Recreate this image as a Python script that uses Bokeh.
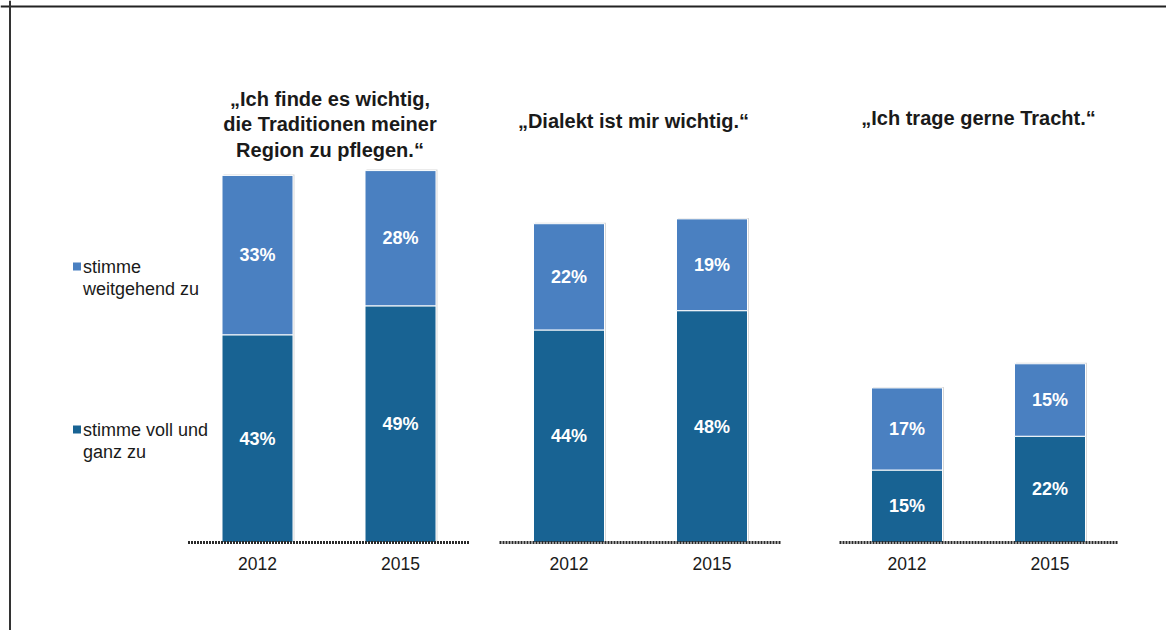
from bokeh.plotting import figure
from bokeh.models import Range1d, ColumnDataSource, Span
from bokeh.core.properties import value
from bokeh.embed import file_html
from bokeh.resources import INLINE

# ---------------- data ----------------
titles = ["„Ich finde es wichtig,\ndie Traditionen meiner\nRegion zu pflegen.“",
          "„Dialekt ist mir wichtig.“",
          "„Ich trage gerne Tracht.“"]
years = ["2012", "2015"]
voll = [43, 49, 44, 48, 15, 22]   # stimme voll und ganz zu
weit = [33, 28, 22, 19, 17, 15]   # stimme weitgehend zu
series_labels = ["stimme\nweitgehend zu", "stimme voll und\nganz zu"]
colors = ["#4A80C1", "#186393"]

# ---------------- layout ----------------
W, H = 1166, 630
BASE_PX = 542
PX_PER_PCT = 4.83
def ypx(py):
    return (BASE_PX - py) / PX_PER_PCT

group_centers = [328.5, 640.0, 978.0]
bar_step = 143.0
bar_w = 71.0
title_y_px = [124, 120, 117]
title_dx = [1, -7, 0]
base_half = [141, 141, 139]
FONT = "Liberation Sans"

p = figure(width=W, height=H, x_range=Range1d(0, W),
           y_range=Range1d(ypx(H), ypx(0)),
           output_backend="svg", toolbar_location=None,
           x_axis_type=None, y_axis_type=None,
           min_border=0, min_border_left=0, min_border_right=0,
           min_border_top=0, min_border_bottom=0)
p.grid.visible = False
p.outline_line_color = None
p.background_fill_color = "white"
p.border_fill_color = "white"

xs, tops_v, tops_w, lab_v, lab_w, txt_v, txt_w, tick_txt = [], [], [], [], [], [], [], []
for g, c in enumerate(group_centers):
    for j, yr in enumerate(years):
        k = g * len(years) + j
        x = c + (j - 0.5) * bar_step
        xs.append(x)
        tops_v.append(voll[k])
        tops_w.append(voll[k] + weit[k])
        lab_v.append(voll[k] / 2)
        lab_w.append(voll[k] + weit[k] / 2)
        txt_v.append(f"{voll[k]}%")
        txt_w.append(f"{weit[k]}%")
        tick_txt.append(yr)

src = ColumnDataSource(dict(x=xs, xs=[x + 1.5 for x in xs], top_v=tops_v, top_w=tops_w,
                            top_ws=[t + 0.2 for t in tops_w],
                            lab_v=lab_v, lab_w=lab_w, txt_v=txt_v, txt_w=txt_w,
                            zero=[0] * len(xs), tick=tick_txt))

# shadow
p.vbar(x="xs", width=bar_w, bottom="zero", top="top_ws", source=src,
       fill_color="#d8d8d8", line_color=None)
# stacked bars
p.vbar(x="x", width=bar_w, bottom="zero", top="top_v", source=src,
       fill_color=colors[1], line_color="white", line_width=1)
p.vbar(x="x", width=bar_w, bottom="top_v", top="top_w", source=src,
       fill_color=colors[0], line_color="white", line_width=1)

# value labels
for ycol, tcol in (("lab_v", "txt_v"), ("lab_w", "txt_w")):
    p.text(x="x", y=ycol, text=tcol, source=src, text_color="white",
           text_font=value(FONT), text_font_style="bold", text_font_size="18px",
           text_align="center", text_baseline="middle")

# tick labels
p.text(x="x", y="zero", text="tick", source=src, y_offset=21,
       text_color="#1a1a1a", text_font=value(FONT), text_font_size="17.5px",
       text_align="center", text_baseline="middle")

# baselines
p.segment(x0=[c - h for c, h in zip(group_centers, base_half)],
          x1=[c + h for c, h in zip(group_centers, base_half)],
          y0=[0] * 3, y1=[0] * 3, line_color="#2a2a2a", line_width=3,
          line_dash="2 1")

# titles
p.text(x=[c + d for c, d in zip(group_centers, title_dx)],
       y=[ypx(t) for t in title_y_px], text=titles,
       text_color="#1a1a1a", text_font=value(FONT), text_font_style="bold",
       text_font_size="20px", text_align="center", text_baseline="middle",
       text_line_height=1.15)

# legend (series order top to bottom)
leg_x = 76.5
leg_y_px = [266, 429]
p.scatter(x=[leg_x] * 2, y=[ypx(v) for v in leg_y_px], marker="square", size=8,
          fill_color=[colors[0], colors[1]], line_color=None)
p.text(x=[leg_x + 6] * 2, y=[ypx(v) for v in leg_y_px], text=series_labels,
       text_color="#1a1a1a", text_font=value(FONT), text_font_size="18px",
       text_align="left", text_baseline="top", y_offset=-10,
       text_line_height=1.12)

# frame lines (top and left)
p.add_layout(Span(location=ypx(6), dimension="width", line_color="#222", line_width=2))
p.add_layout(Span(location=9.5, dimension="height", line_color="#333", line_width=2))

open("out.html", "w").write(file_html(p, INLINE))
